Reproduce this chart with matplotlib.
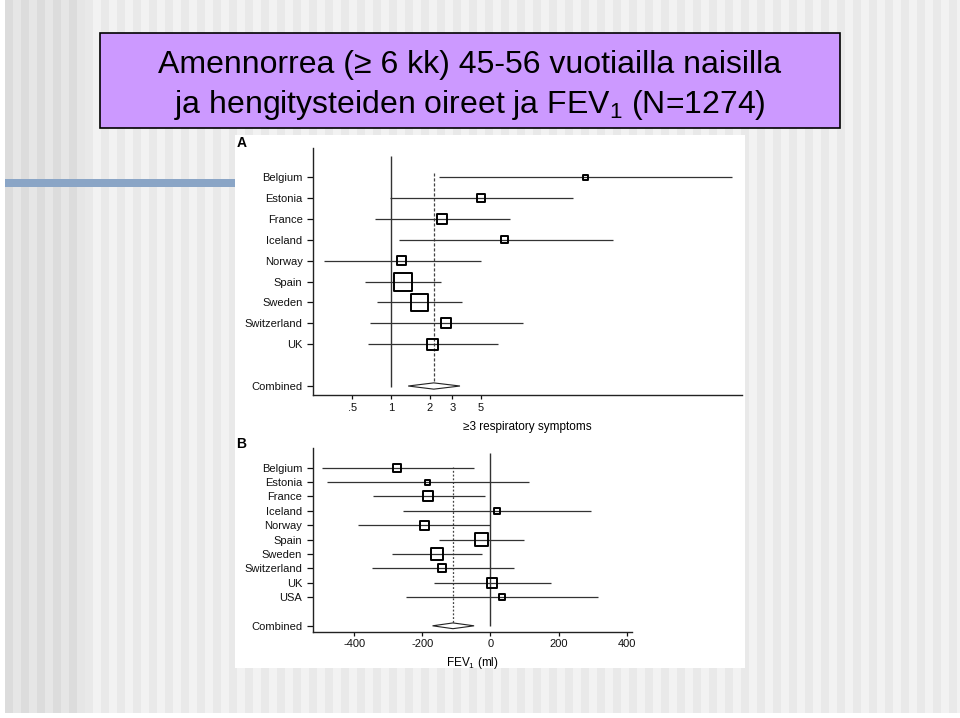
import matplotlib
matplotlib.use("Agg")
import matplotlib.pyplot as plt
from matplotlib.patches import Rectangle
import numpy as np

plt.rcParams['font.family'] = ['Liberation Sans', 'DejaVu Sans']
plt.rcParams['mathtext.fontset'] = 'custom'
plt.rcParams['mathtext.rm'] = 'Liberation Sans'
plt.rcParams['mathtext.it'] = 'Liberation Sans:italic'

# panel A: odds ratio for >=3 respiratory symptoms
countries_a = ['Belgium', 'Estonia', 'France', 'Iceland', 'Norway',
               'Spain', 'Sweden', 'Switzerland', 'UK']
or_a = [32.5, 5.0, 2.5, 7.7, 1.21, 1.23, 1.66, 2.68, 2.11]
lo_a = [2.36, 0.99, 0.75, 1.15, 0.30, 0.63, 0.78, 0.68, 0.66]
hi_a = [451, 26.2, 8.5, 53, 5.0, 2.44, 3.59, 10.6, 6.77]
weight_a = [5, 8, 10, 7, 9, 18, 17, 10, 11]
combined_a = [2.15, 1.36, 3.44]  # estimate, low, high
ticks_a = [0.5, 1, 2, 3, 5]
ticklabels_a = ['.5', '1', '2', '3', '5']

# panel B: difference in FEV1 (ml)
countries_b = ['Belgium', 'Estonia', 'France', 'Iceland', 'Norway',
               'Spain', 'Sweden', 'Switzerland', 'UK', 'USA']
est_b = [-273, -184, -182, 19, -195, -25, -158, -142, 4, 33]
lo_b = [-495, -481, -345, -258, -388, -151, -290, -348, -167, -249]
hi_b = [-48, 114, -16, 295, 0, 100, -24, 68, 178, 317]
weight_b = [8, 5, 10, 6, 9, 13, 12, 8, 10, 6]
combined_b = [-110, -170, -48]
ticks_b = [-400, -200, 0, 200, 400]

W, H = 960, 718
fig = plt.figure(figsize=(W / 100, H / 100), dpi=100)

# slide background
bg = fig.add_axes([0, 0, 1, 1])
bg.set_xlim(0, W)
bg.set_ylim(H, 0)
bg.axis('off')
bg.add_patch(Rectangle((0, 0), W, H, color='white', zorder=0))
for x in range(5, 955, 16):
    dark = '#dcdcdc' if x < 76 else '#e9e9e9'
    light = '#e6e6e6' if x < 76 else '#f2f2f2'
    bg.add_patch(Rectangle((x, 0), 8, 713, color=dark, lw=0, zorder=1))
    bg.add_patch(Rectangle((x + 8, 0), 8, 713, color=light, lw=0, zorder=1))
bg.add_patch(Rectangle((5, 179), 230, 8, color='#8aa5c6', lw=0, zorder=2))
bg.add_patch(Rectangle((235, 135), 510, 533, color='white', lw=0, zorder=2))
bg.add_patch(Rectangle((100, 33), 740, 95, facecolor='#cc99ff',
                       edgecolor='black', lw=1.2, zorder=3))
bg.text(470, 73, 'Amennorrea (≥ 6 kk) 45-56 vuotiailla naisilla',
        ha='center', va='baseline', fontsize=23, zorder=4)
bg.text(470, 113, 'ja hengitysteiden oireet ja FEV$_1$ (N=1274)',
        ha='center', va='baseline', fontsize=23, zorder=4)
bg.text(237, 143, 'A', fontsize=10, fontweight='bold', va='center', zorder=4)
bg.text(236, 444, 'B', fontsize=10, fontweight='bold', va='center', zorder=4)


def px_axes(left, top, right, bottom):
    return fig.add_axes([left / W, 1 - bottom / H, (right - left) / W, (bottom - top) / H])


def style(ax):
    for s in ['top', 'right']:
        ax.spines[s].set_visible(False)
    for s in ['left', 'bottom']:
        ax.spines[s].set_linewidth(1.0)
        ax.spines[s].set_color('#222222')
    ax.set_facecolor('none')
    ax.tick_params(axis='y', direction='out', length=4.3, width=0.9,
                   labelsize=8, pad=3.2, colors='#111111')
    ax.tick_params(axis='x', direction='out', length=3, width=0.9,
                   labelsize=8, pad=2.5, colors='#111111')
    ax.minorticks_off()


def forest(ax, names, est, lo, hi, weight, comb, half_h):
    n = len(names)
    pos = np.arange(n, 0, -1)
    ax.hlines(pos, lo, hi, color='#333333', lw=0.9, zorder=2)
    sizes = [(w * 0.72) ** 2 for w in weight]
    ax.scatter(est, pos, s=sizes, marker='s', facecolors='none',
               edgecolors='black', linewidths=1.4, zorder=3)
    c, cl, ch = comb
    ax.fill([cl, c, ch, c, cl], [-1, -1 + half_h, -1, -1 - half_h, -1],
            facecolor='white', edgecolor='#222222', lw=0.8, zorder=3)
    ax.set_yticks(list(pos) + [-1])
    ax.set_yticklabels(names + ['Combined'])
    return pos


# panel A
axa = px_axes(313, 148, 742, 395)
axa.set_xscale('log')
style(axa)
forest(axa, countries_a, or_a, lo_a, hi_a, weight_a, combined_a, 0.15)
axa.vlines(1, -1.05, 10.0, color='#333333', lw=1.0, zorder=1)
axa.vlines(combined_a[0], -1.0, 9.2, color='#444444', lw=0.9,
           linestyles=(0, (2.5, 1.5)), zorder=1)
axa.set_xlim(0.247, 539)
axa.set_ylim(-1.43, 10.39)
axa.set_xticks(ticks_a)
axa.set_xticklabels(ticklabels_a)
axa.minorticks_off()
axa.set_xlabel('≥3 respiratory symptoms', fontsize=8.5, labelpad=6)

# panel B
axb = px_axes(312.7, 448, 631.7, 631.7)
style(axb)
forest(axb, countries_b, est_b, lo_b, hi_b, weight_b, combined_b, 0.2)
axb.vlines(0, -1.0, 11.0, color='#333333', lw=1.0, zorder=1)
axb.vlines(combined_b[0], -1.0, 10.05, color='#444444', lw=0.9,
           linestyles=(0, (1.5, 1.5)), zorder=1)
axb.set_xlim(-522, 415)
axb.set_ylim(-1.41, 11.37)
axb.set_xticks(ticks_b)
axb.set_xticklabels([str(t) for t in ticks_b])
axb.set_xlabel('FEV$_1$ (ml)', fontsize=8.5, labelpad=4)

fig.savefig('out.png', dpi=100)
